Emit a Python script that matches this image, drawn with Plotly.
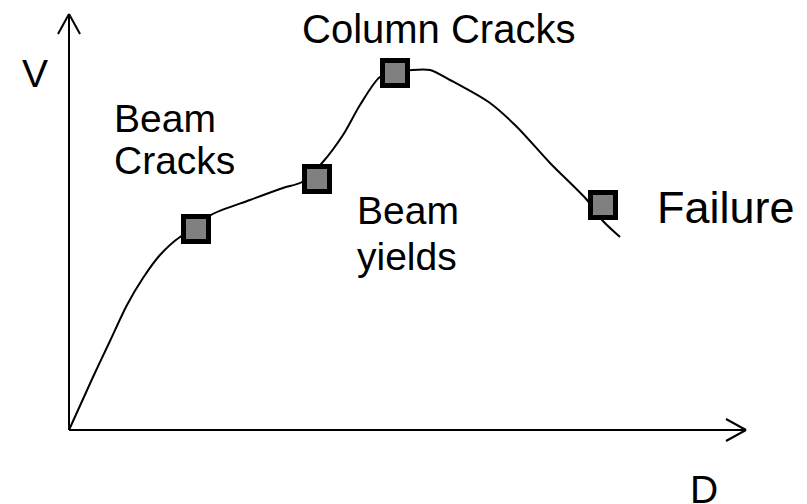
import plotly.graph_objects as go

# curve of shear V against drift D (schematic units, origin at 0,0)
curve_d = [0, 24, 41, 58, 74, 91, 111, 127, 142, 181, 214, 233, 253, 274, 291, 311, 326, 343, 361, 381, 421, 448, 481, 518, 533, 551]
curve_v = [0, 53, 89, 125, 152, 175, 193, 201, 215, 230, 242, 248, 267, 295, 325, 353, 357, 360, 360, 350, 327, 303, 267, 230, 210, 193]

# damage states marked on the curve
event_d = [127, 248, 326, 534]
event_v = [201, 251, 357, 225]

x_end = 677   # tip of D axis
y_end = 416   # tip of V axis

font = "Arial, Liberation Sans, sans-serif"

fig = go.Figure()
fig.add_trace(go.Scatter(x=curve_d, y=curve_v, mode="lines",
                         line=dict(color="black", width=2, shape="spline", smoothing=0.8),
                         hoverinfo="skip"))
fig.add_trace(go.Scatter(x=event_d, y=event_v, mode="markers",
                         marker=dict(symbol="square", size=25, color="#808080",
                                     line=dict(color="black", width=5)),
                         hoverinfo="skip"))

# axes with open arrow heads
ax = dict(type="line", line=dict(color="black", width=2), layer="below")
shapes = [
    dict(ax, x0=0, y0=0, x1=x_end, y1=0),
    dict(ax, x0=0, y0=0, x1=0, y1=y_end),
    dict(ax, x0=x_end - 20, y0=11, x1=x_end, y1=0),
    dict(ax, x0=x_end - 20, y0=-11, x1=x_end, y1=0),
    dict(ax, x0=-11, y0=y_end - 20, x1=0, y1=y_end),
    dict(ax, x0=11, y0=y_end - 20, x1=0, y1=y_end),
]

def label(text, x, y, size=39, xanchor="center"):
    return dict(text=text, x=x, y=y, xref="x", yref="y", showarrow=False,
                xanchor=xanchor, yanchor="middle",
                font=dict(family=font, size=size, color="black"))

annotations = [
    label("V", -34, 357),
    label("D", 635, -59),
    label("Column Cracks", 369, 401, size=40),
    label("Beam", 43, 312, xanchor="left"),
    label("Cracks", 43, 270, xanchor="left"),
    label("Beam", 286, 220, xanchor="left"),
    label("yields", 286, 174, xanchor="left"),
    label("Failure", 586, 223, size=45, xanchor="left"),
]

fig.update_layout(
    width=807, height=504,
    margin=dict(l=0, r=0, t=0, b=0),
    paper_bgcolor="white", plot_bgcolor="white",
    showlegend=False,
    xaxis=dict(range=[-69, 738], visible=False, fixedrange=True),
    yaxis=dict(range=[-74, 430], visible=False, fixedrange=True),
    shapes=shapes,
    annotations=annotations,
)

# page body has a default 8px margin; drop it so the figure fills the window
fig.write_html("out.html", config={"displayModeBar": False},
               post_script="document.body.style.margin='0';")
